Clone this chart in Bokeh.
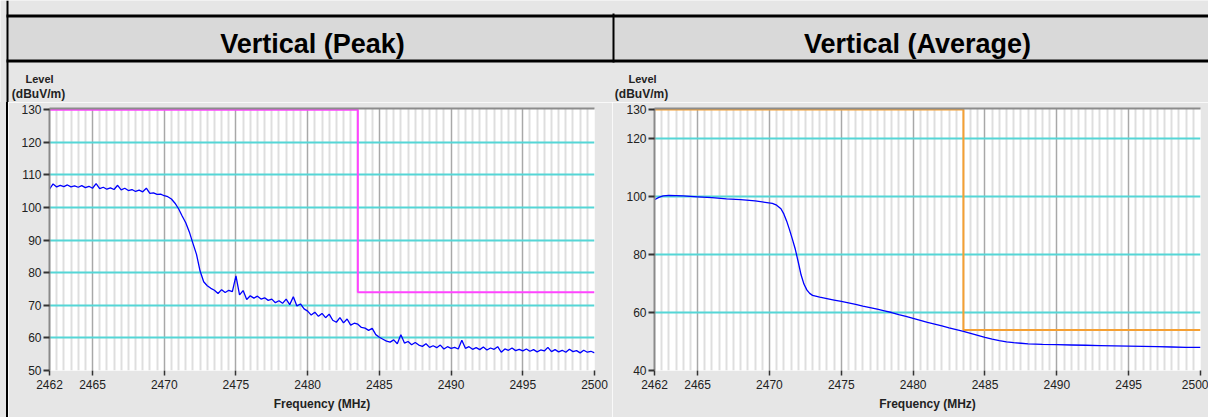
from bokeh.plotting import figure
from bokeh.layouts import column, row
from bokeh.models import Range1d, FixedTicker, LinearAxis, Div
from bokeh.core.properties import value
from bokeh.embed import file_html
from bokeh.resources import INLINE

FONT = "Liberation Sans"

# ---------------- data ----------------
titles = ["Vertical (Peak)", "Vertical (Average)"]
y_title_lines = ["Level", "(dBuV/m)"]
x_title = "Frequency (MHz)"

x_ticks = [2462, 2465, 2470, 2475, 2480, 2485, 2490, 2495, 2500]
peak_y_ticks = [50, 60, 70, 80, 90, 100, 110, 120, 130]
peak_y_grid = [60, 70, 80, 90, 100, 110, 120]
avg_y_ticks = [40, 60, 80, 100, 120, 130]
avg_y_grid = [60, 80, 100, 120]

peak_freq = [
    2462.0, 2462.25, 2462.5, 2462.75, 2463.0, 2463.25, 2463.5, 2463.75,
    2464.0, 2464.25, 2464.5, 2464.75, 2465.0, 2465.25, 2465.5, 2465.75,
    2466.0, 2466.25, 2466.5, 2466.75, 2467.0, 2467.25, 2467.5, 2467.75,
    2468.0, 2468.25, 2468.5, 2468.75, 2469.0, 2469.25, 2469.5, 2469.75,
    2470.0, 2470.25, 2470.5, 2470.75, 2471.0, 2471.25, 2471.5, 2471.75,
    2472.0, 2472.25, 2472.5, 2472.75, 2473.0, 2473.25, 2473.5, 2473.75,
    2474.0, 2474.25, 2474.5, 2474.75, 2475.0, 2475.25, 2475.5, 2475.75,
    2476.0, 2476.25, 2476.5, 2476.75, 2477.0, 2477.25, 2477.5, 2477.75,
    2478.0, 2478.25, 2478.5, 2478.75, 2479.0, 2479.25, 2479.5, 2479.75,
    2480.0, 2480.25, 2480.5, 2480.75, 2481.0, 2481.25, 2481.5, 2481.75,
    2482.0, 2482.25, 2482.5, 2482.75, 2483.0, 2483.25, 2483.5, 2483.75,
    2484.0, 2484.25, 2484.5, 2484.75, 2485.0, 2485.25, 2485.5, 2485.75,
    2486.0, 2486.25, 2486.5, 2486.75, 2487.0, 2487.25, 2487.5, 2487.75,
    2488.0, 2488.25, 2488.5, 2488.75, 2489.0, 2489.25, 2489.5, 2489.75,
    2490.0, 2490.25, 2490.5, 2490.75, 2491.0, 2491.25, 2491.5, 2491.75,
    2492.0, 2492.25, 2492.5, 2492.75, 2493.0, 2493.25, 2493.5, 2493.75,
    2494.0, 2494.25, 2494.5, 2494.75, 2495.0, 2495.25, 2495.5, 2495.75,
    2496.0, 2496.25, 2496.5, 2496.75, 2497.0, 2497.25, 2497.5, 2497.75,
    2498.0, 2498.25, 2498.5, 2498.75, 2499.0, 2499.25, 2499.5, 2499.75,
    2500.0,
]
peak_level = [
    105.6, 107.2, 106.3, 106.8, 106.4, 106.9, 106.3, 106.6,
    106.2, 106.7, 106.1, 106.5, 105.9, 107.3, 105.8, 106.2,
    105.6, 106.0, 105.5, 106.8, 105.4, 105.9, 105.2, 105.5,
    104.9, 105.3, 104.8, 105.9, 104.3, 104.5, 104.0, 104.1,
    103.6, 103.3, 102.6, 101.3, 99.6, 97.4, 95.3, 92.5,
    89.0, 85.6, 80.5, 77.2, 76.0, 75.2, 74.6, 73.6,
    74.8, 73.9, 74.6, 74.2, 79.0, 73.2, 74.5, 71.8,
    72.9, 72.2, 72.8, 71.9, 72.3, 71.5, 71.9, 70.8,
    71.4, 70.6, 71.9, 70.2, 72.6, 69.8, 70.4, 68.9,
    68.2, 67.0, 67.9, 66.6, 67.5, 66.2, 67.3, 65.4,
    64.8, 66.2, 64.6, 65.8, 63.9, 64.5, 64.2, 63.2,
    63.0, 62.3, 62.9, 61.0, 60.2, 59.6, 59.0, 58.7,
    59.4, 58.2, 61.0, 58.4, 58.9, 57.9, 58.6, 57.8,
    57.4, 58.2, 57.1, 57.6, 57.0, 57.8, 56.6, 57.3,
    56.8, 57.1, 56.6, 59.3, 56.8, 57.3, 56.5, 57.0,
    56.4, 57.2, 56.3, 56.9, 56.5, 57.3, 55.6, 56.6,
    56.2, 56.9, 56.1, 56.5, 56.0, 56.6, 55.9, 56.4,
    55.7, 56.3, 56.0, 57.1, 55.8, 56.4, 55.7, 56.2,
    55.6, 56.5, 55.8, 56.1, 55.4, 56.2, 55.6, 55.9,
    55.4,
]

avg_freq = [
    2462.0, 2462.3, 2462.6, 2463.0, 2463.5, 2464.0, 2465.0, 2466.0,
    2467.0, 2468.0, 2469.0, 2469.7, 2470.2, 2470.5, 2470.8, 2471.0,
    2471.2, 2471.4, 2471.6, 2471.8, 2472.0, 2472.2, 2472.4, 2472.6,
    2472.8, 2473.0, 2473.5, 2474.0, 2474.5, 2475.0, 2475.5, 2476.0,
    2476.5, 2477.0, 2477.5, 2478.0, 2478.5, 2479.0, 2479.5, 2480.0,
    2480.5, 2481.0, 2481.5, 2482.0, 2482.5, 2483.0, 2483.5, 2484.0,
    2484.5, 2485.0, 2485.5, 2486.0, 2486.5, 2487.0, 2487.5, 2488.0,
    2489.0, 2490.0, 2491.0, 2492.0, 2493.0, 2494.0, 2495.0, 2496.0,
    2497.0, 2498.0, 2499.0, 2500.0,
]
avg_level = [
    98.9, 99.7, 100.2, 100.4, 100.3, 100.2, 99.9, 99.6,
    99.2, 98.9, 98.5, 98.0, 97.6, 97.0, 95.8, 94.0,
    91.5, 88.5, 85.2, 81.8, 77.5, 73.0, 69.8, 67.8,
    66.6, 65.9, 65.3, 64.8, 64.3, 63.8, 63.3, 62.8,
    62.2, 61.7, 61.2, 60.6, 60.0, 59.3, 58.7, 58.0,
    57.3, 56.6, 56.0, 55.4, 54.7, 54.1, 53.5, 52.8,
    52.1, 51.4, 50.8, 50.3, 49.9, 49.6, 49.4, 49.2,
    49.0, 48.9, 48.8, 48.7, 48.6, 48.5, 48.4, 48.3,
    48.2, 48.1, 48.0, 48.0,
]

peak_limit_freq = [2462, 2483.5, 2483.5, 2500]
peak_limit_level = [130, 130, 74, 74]
avg_limit_freq = [2462, 2483.5, 2483.5, 2500]
avg_limit_level = [130, 130, 54, 54]

# minor (0.5 MHz) vertical grid positions
x_minor = [2462 + 0.5 * i for i in range(1, 76) if (2462 + 0.5 * i) % 5 != 0]

BG = "#e6e6e6"

# ---------------- header strip (page pixel coordinates) ----------------
hdr = figure(width=1208, height=102, x_range=Range1d(0, 1208), y_range=Range1d(102, 0),
             x_axis_location=None, y_axis_location=None, toolbar_location=None,
             output_backend="svg", min_border=0, outline_line_color=None,
             background_fill_color=BG, border_fill_color=BG)
hdr.grid.visible = False
hdr.quad(left=[8], right=[1208], top=[17], bottom=[59], fill_color="#d9d9d9", line_color=None)
hdr.quad(left=[6, 6], right=[1208, 1208], top=[14, 59], bottom=[17, 62],
         fill_color="black", line_color=None)
hdr.quad(left=[612, 6], right=[614, 8], top=[13, 0], bottom=[62, 102],
         fill_color="black", line_color=None)
hdr.text(x=[312, 917], y=[43, 43], text=titles, text_align="center",
         text_baseline="alphabetic", text_font=value(FONT), text_font_style="bold",
         text_font_size="27px", text_color="black")
hdr.text(x=[39, 642], y=[78, 78], text=[y_title_lines[0]] * 2, text_align="center",
         text_baseline="alphabetic", text_font=value(FONT), text_font_style="bold",
         text_font_size="11px", text_color="#222222")
hdr.text(x=[38, 641], y=[93, 93], text=[y_title_lines[1]] * 2, text_align="center",
         text_baseline="alphabetic", text_font=value(FONT), text_font_style="bold",
         text_font_size="12px", text_color="#222222")

# thin left border strip beside the left chart (plain box, no text)
strip = Div(text="", width=8, height=315,
            styles={"background-color": BG, "border-right": "2px solid black",
                    "box-sizing": "border-box", "margin": "0", "padding": "0"})


def make_chart(width, left, right, bottom, ylo, yticks, ygrid,
               freq, level, lim_f, lim_l, lim_color):
    p = figure(width=width, height=315, x_range=Range1d(2462, 2500),
               y_range=Range1d(ylo, 130.35), toolbar_location=None,
               output_backend="svg", min_border_left=left, min_border_right=right,
               min_border_top=6, min_border_bottom=bottom,
               background_fill_color="white", border_fill_color=BG,
               outline_line_color=None)
    # axes
    p.xaxis.ticker = FixedTicker(ticks=x_ticks)
    p.yaxis.ticker = FixedTicker(ticks=yticks)
    for ax in (p.xaxis[0], p.yaxis[0]):
        ax.major_label_text_font = FONT
        ax.major_label_text_font_size = "12px"
        ax.major_label_text_color = "#222222"
        ax.major_tick_in = 0
        ax.major_tick_line_color = "#333333"
        ax.minor_tick_line_color = None
    p.xaxis.major_tick_out = 5
    p.xaxis.major_tick_line_width = 1.5
    p.xaxis.axis_line_color = None
    p.xaxis.major_label_standoff = 4
    p.xaxis.axis_label = x_title
    p.xaxis.axis_label_text_font = FONT
    p.xaxis.axis_label_text_font_style = "bold"
    p.xaxis.axis_label_text_font_size = "12px"
    p.xaxis.axis_label_text_color = "#222222"
    p.xaxis.axis_label_standoff = 5
    p.yaxis.major_tick_out = 6
    p.yaxis.major_tick_line_width = 2
    p.yaxis.axis_line_color = "#8a8a8a"
    p.yaxis.axis_line_width = 2
    p.yaxis.major_label_standoff = 2

    top = LinearAxis(ticker=FixedTicker(ticks=[]), major_label_text_font_size="0px",
                     major_tick_line_color=None, minor_tick_line_color=None,
                     axis_line_color="#8c8c8c", axis_line_width=2)
    p.add_layout(top, "above")

    # grids
    p.xgrid.ticker = FixedTicker(ticks=x_ticks[1:-1], minor_ticks=x_minor)
    p.xgrid.grid_line_color = "#a8a8a8"
    p.xgrid.grid_line_width = 1.5
    p.xgrid.minor_grid_line_color = "#dedede"
    p.xgrid.minor_grid_line_width = 2
    p.ygrid.ticker = FixedTicker(ticks=ygrid)
    p.ygrid.grid_line_color = "#55d6d6"
    p.ygrid.grid_line_width = 2

    p.line(lim_f, lim_l, line_color=lim_color, line_width=2)
    p.line(freq, level, line_color="#0000ff", line_width=1.3)
    return p


left_chart = make_chart(604, 41, 18, 47, 50, peak_y_ticks, peak_y_grid,
                        peak_freq, peak_level, peak_limit_freq, peak_limit_level, "#ff44ff")
right_chart = make_chart(596, 42, 8, 46, 40, avg_y_ticks, avg_y_grid,
                         avg_freq, avg_level, avg_limit_freq, avg_limit_level, "#f5a033")

layout = column(hdr, row(strip, left_chart, right_chart, spacing=0), spacing=0)

open("out.html", "w").write(file_html(layout, INLINE))
